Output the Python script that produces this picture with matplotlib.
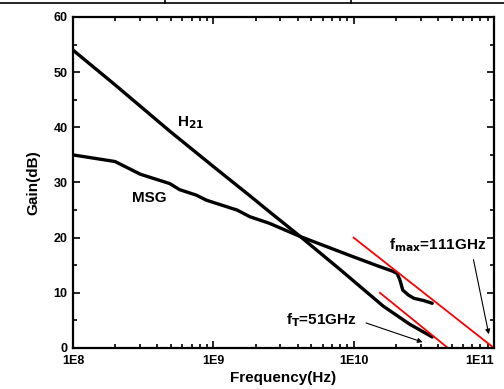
import numpy as np
import matplotlib
matplotlib.use("Agg")
import matplotlib.pyplot as plt
from matplotlib.lines import Line2D
from matplotlib.ticker import FixedLocator, LogLocator, MultipleLocator, NullFormatter

plt.rcParams['font.family'] = ['Liberation Sans', 'DejaVu Sans']
plt.rcParams['font.weight'] = 'bold'
plt.rcParams['mathtext.default'] = 'bf'

# H21 (current gain), log10(freq) vs dB
h21_logf = [8.0, 8.30, 8.69, 9.0, 9.26, 9.40, 9.62, 9.90, 10.21, 10.40, 10.56]
h21_db = [54.0, 47.7, 39.3, 32.9, 27.6, 24.7, 20.2, 14.3, 7.6, 4.3, 2.0]

# MSG
msg_logf = [8.0, 8.30, 8.48, 8.69, 8.76, 8.88, 8.95, 9.17, 9.26, 9.40, 9.62,
            9.97, 10.17, 10.28, 10.31, 10.33, 10.35, 10.39, 10.43, 10.50, 10.56]
msg_db = [35.0, 33.8, 31.5, 29.8, 28.7, 27.7, 26.8, 25.0, 23.8, 22.6, 20.2,
          16.8, 14.9, 13.9, 13.5, 12.3, 10.5, 9.6, 9.0, 8.6, 8.1]

# -20 dB/dec extrapolation lines (freq, dB)
ft_line_f = [1.54e10, 4.7e10]
ft_line_db = [10.0, 0.0]
fmax_line_f = [1.0e10, 1.0e11]
fmax_line_db = [20.0, 0.0]

fig = plt.figure(figsize=(5.04, 3.89), dpi=100)
ax = fig.add_axes([0.1448, 0.1054, 0.8353, 0.8509])

ax.plot(10 ** np.array(h21_logf), h21_db, color='black', lw=2.4, solid_capstyle='round')
ax.plot(10 ** np.array(msg_logf), msg_db, color='black', lw=2.4, solid_capstyle='round')
ax.plot(ft_line_f, ft_line_db, color='red', lw=1.3)
ax.plot(fmax_line_f, fmax_line_db, color='red', lw=1.3)

ax.set_xscale('log')
ax.set_xlim(1e8, 1e11)
ax.set_ylim(0, 60)

ax.xaxis.set_major_locator(FixedLocator([1e8, 1e9, 1e10, 1e11]))
ax.set_xticklabels(['1E8', '1E9', '1E10', '1E11'])
ax.get_xticklabels()[-1].set_horizontalalignment('right')
ax.xaxis.set_minor_locator(LogLocator(base=10, subs=np.arange(2, 10)))
ax.xaxis.set_minor_formatter(NullFormatter())
ax.yaxis.set_major_locator(MultipleLocator(10))
ax.yaxis.set_minor_locator(MultipleLocator(5))

ax.tick_params(which='both', direction='in', top=True, right=True, width=1.2,
               labelsize=9)
ax.tick_params(which='major', length=5)
ax.tick_params(which='minor', length=3)
ax.tick_params(axis='x', pad=5)
ax.tick_params(axis='y', pad=4)
for sp in ax.spines.values():
    sp.set_linewidth(1.6)

ax.set_xlabel('Frequency(Hz)', fontsize=11, fontweight='bold', labelpad=3)
ax.set_ylabel('Gain(dB)', fontsize=11, fontweight='bold', labelpad=9)

ax.text(10 ** 8.74, 40.2, r'H$_{21}$', fontsize=11, fontweight='bold')
ax.text(10 ** 8.42, 27.2, 'MSG', fontsize=11, fontweight='bold', va='center')
ax.text(10 ** 9.52, 5.1, r'f$_{T}$=51GHz', fontsize=11, fontweight='bold', va='center')
ax.text(10 ** 10.255, 18.7, r'f$_{max}$=111GHz', fontsize=11, fontweight='bold', va='center')

arrow = dict(arrowstyle='-|>', color='black', lw=0.8, mutation_scale=7)
ax.annotate('', xy=(10 ** 10.51, 0.9), xytext=(10 ** 10.07, 4.7), arrowprops=arrow)
ax.annotate('', xy=(10 ** 10.967, 2.0), xytext=(10 ** 10.85, 16.5), arrowprops=arrow)

# table border cropped at the top of the picture
fig.add_artist(Line2D([0, 1], [1 - 3.3 / 389] * 2, color='black', lw=1.2))
for xp in [165, 351]:
    fig.add_artist(Line2D([xp / 504] * 2, [1, 1 - 3.3 / 389], color='black', lw=1.2))

fig.savefig('out.png', dpi=100)
